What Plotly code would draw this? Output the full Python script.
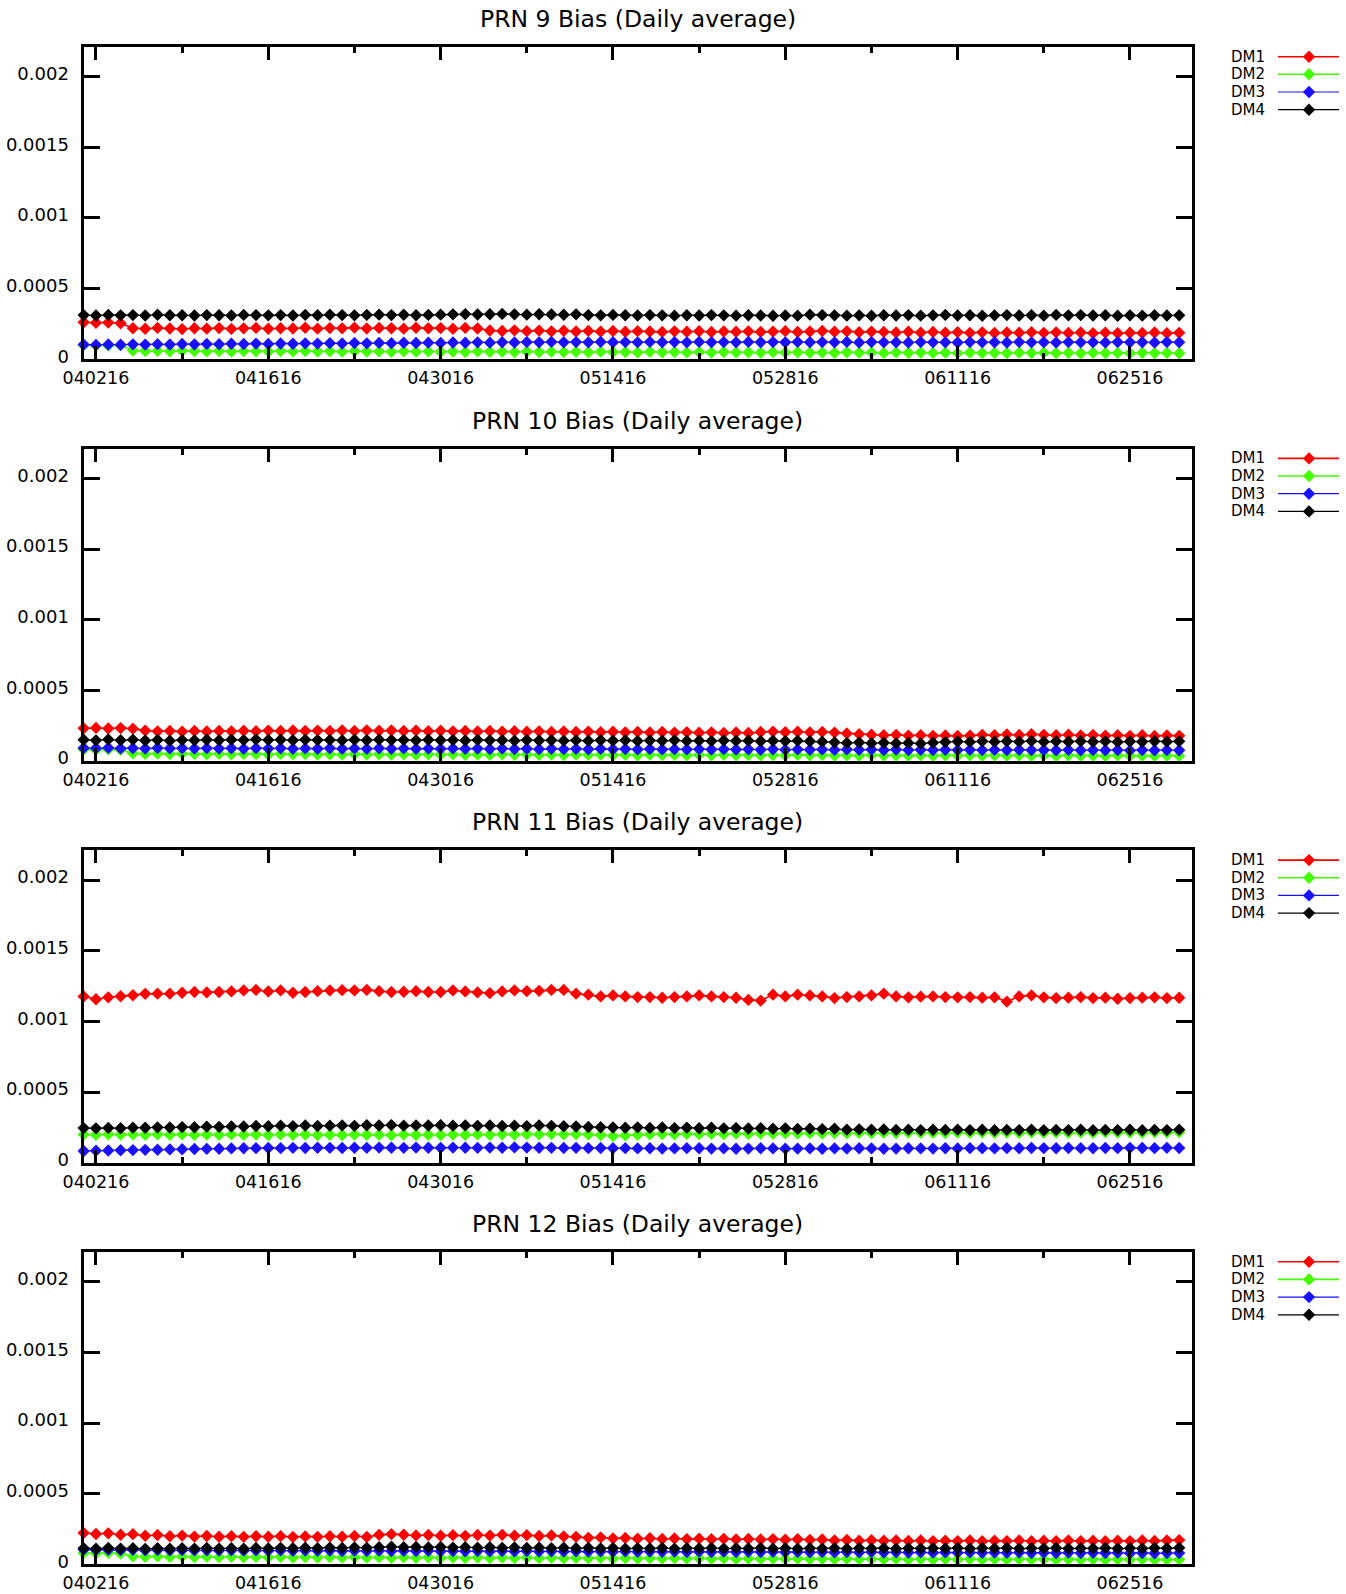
import plotly.graph_objects as go
import pandas as pd

# ---------------- data ----------------
dates = [d.strftime("%Y-%m-%d") for d in pd.date_range("2016-04-01", "2016-06-29", freq="D")]

tick_dates = ["2016-04-02", "2016-04-16", "2016-04-30", "2016-05-14", "2016-05-28", "2016-06-11", "2016-06-25"]
tick_labels = ["040216", "041616", "043016", "051416", "052816", "061116", "062516"]
minor_tick_dates = ["2016-04-09", "2016-04-23", "2016-05-07", "2016-05-21", "2016-06-04", "2016-06-18"]

y_tick_vals = [0, 0.0005, 0.001, 0.0015, 0.002]
y_tick_labels = ["0", "0.0005", "0.001", "0.0015", "0.002"]

series_names = ["DM1", "DM2", "DM3", "DM4"]
panel_titles = ["PRN 9 Bias (Daily average)", "PRN 10 Bias (Daily average)",
                "PRN 11 Bias (Daily average)", "PRN 12 Bias (Daily average)"]

# values in units of 1e-6
prn9_dm1 = [262,258,260,255,220,216,222,218,214,220, 217,221,215,219,222,216,220,218,223,217,
            221,219,224,218,222,220,217,223,219,221, 216,222,218,204,200,205,199,203,198,202,
            197,201,196,200,195,199,197,194,198,195, 199,193,197,195,198,194,196,199,193,197,
            200,195,198,192,196,194,190,195,189,193, 188,192,187,191,186,190,188,192,187,191,
            186,190,185,189,184,188,186,190,185,187]
prn9_dm2 = [100,98,97,99,62,58,60,57,61,58, 56,59,55,58,57,54,58,56,59,55,
            57,54,58,55,56,53,57,54,56,53, 55,52,56,53,54,51,55,52,54,51,
            53,50,54,51,52,49,53,50,52,49, 51,48,52,49,50,47,51,48,50,47,
            49,46,50,47,48,45,49,46,48,45, 47,44,48,45,46,44,47,45,46,44,
            46,43,47,44,45,43,46,44,45,43]
prn9_dm3 = [104,102,105,103,106,104,107,105,108,106, 109,107,110,108,111,109,112,110,113,111,
            114,112,115,113,116,114,117,115,118,116, 119,117,120,118,121,119,122,120,123,121,
            122,120,123,121,122,120,123,121,122,120, 123,121,122,120,123,121,122,120,123,121,
            122,120,123,119,122,120,121,119,122,120, 121,119,122,120,121,119,122,120,121,119,
            122,120,121,119,122,120,121,119,122,120]
prn9_dm4 = [313,310,314,311,313,310,315,312,312,310, 313,312,310,314,313,311,313,310,314,312,
            315,313,311,314,316,313,315,312,314,316, 318,320,317,319,321,318,316,319,317,315,
            318,313,311,314,312,310,313,311,309,312, 310,313,311,309,312,310,308,310,309,316,
            313,311,309,311,308,312,310,313,309,311, 314,310,312,308,311,313,310,312,309,314,
            311,313,310,312,308,311,309,312,310,311]

prn10_dm1 = [232,234,230,233,229,215,210,213,208,212, 209,213,210,214,211,215,212,216,213,215,
             212,216,213,217,214,216,212,215,211,214, 210,213,209,212,208,211,207,210,206,209,
             205,208,204,207,203,206,202,205,201,204, 200,203,199,202,198,205,208,204,207,203,
             206,201,195,190,186,182,185,180,183,178, 181,177,180,185,183,188,184,189,185,182,
             186,181,184,179,183,178,182,177,181,178]
prn10_dm2 = [82,80,83,79,54,50,53,49,52,50, 48,51,47,50,49,46,50,47,49,46,
             48,45,49,46,48,45,47,44,48,45, 47,44,46,43,47,44,46,43,45,42,
             46,43,45,42,44,41,45,42,44,41, 43,40,44,41,43,40,42,39,43,40,
             42,39,41,38,42,39,41,38,40,37, 41,38,40,37,41,38,40,37,39,36,
             40,37,39,36,40,37,38,36,39,36]
prn10_dm3 = [92,90,93,89,91,88,92,89,90,88, 91,88,90,87,91,88,90,87,89,87,
             90,87,89,86,90,87,89,86,88,86, 89,86,88,85,88,85,87,84,87,84,
             86,83,86,83,85,82,85,82,84,82, 84,81,84,81,83,80,83,80,82,80,
             82,79,82,79,81,78,81,78,80,78, 80,77,80,77,79,77,79,77,78,76,
             79,76,78,76,78,75,78,76,77,76]
prn10_dm4 = [150,146,152,147,151,145,149,144,148,146, 150,147,151,148,152,149,150,147,151,148,
             149,146,150,147,151,148,149,146,150,147, 148,145,149,146,147,144,148,145,147,144,
             146,143,147,144,146,142,145,143,146,142, 144,141,145,142,144,140,143,141,144,140,
             136,132,128,131,126,129,125,128,124,130, 134,138,135,139,136,140,137,141,136,139,
             137,140,136,139,135,138,136,140,137,139]

prn11_dm1 = [1177,1157,1170,1178,1185,1195,1196,1196,1203,1208, 1205,1208,1212,1219,1223,1212,1219,1203,1208,1214,
             1219,1221,1219,1223,1214,1208,1210,1214,1208,1208, 1219,1212,1205,1200,1212,1219,1214,1216,1223,1223,
             1196,1189,1177,1184,1177,1172,1172,1167,1172,1177, 1184,1177,1172,1167,1152,1147,1189,1177,1189,1184,
             1177,1165,1172,1177,1184,1196,1177,1170,1175,1177, 1172,1170,1172,1168,1170,1140,1177,1184,1170,1165,
             1168,1172,1165,1168,1160,1165,1168,1170,1165,1167]
prn11_dm2 = [200,198,201,199,200,197,201,198,200,197, 199,197,200,198,199,196,200,197,199,196,
             198,196,199,197,198,195,199,196,198,196, 199,197,200,198,201,199,202,200,203,201,
             202,200,196,189,193,198,201,203,200,204, 202,205,203,206,204,207,205,208,206,209,
             207,210,208,211,209,212,210,213,211,212, 210,213,211,214,212,213,211,214,212,213,
             211,214,212,215,213,214,212,215,213,216]
prn11_dm3 = [83,85,86,88,89,91,92,94,95,97, 98,99,101,102,103,104,103,105,104,106,
             105,104,106,105,107,106,105,107,106,105, 107,106,105,107,106,108,107,106,105,104,
             105,103,104,102,103,101,102,100,101,103, 102,100,101,99,100,102,101,99,100,101,
             99,101,100,102,101,99,100,102,101,100, 102,101,103,102,101,103,102,104,103,102,
             104,103,102,104,103,105,104,103,105,104]
prn11_dm4 = [245,243,246,244,248,247,250,249,252,251, 255,254,257,256,260,258,262,259,263,260,
             262,264,261,265,263,266,262,264,263,265, 262,264,261,263,260,262,259,264,261,258,
             256,253,251,249,247,250,246,249,245,248, 244,247,243,245,242,244,240,243,239,241,
             238,240,234,236,233,235,232,234,231,233, 232,234,231,233,230,232,231,233,230,232,
             231,233,230,232,231,233,230,232,231,234]

prn12_dm1 = [223,215,220,210,214,203,208,199,204,197, 201,196,200,195,199,196,200,194,198,195,
             199,196,201,194,209,214,210,205,208,203, 207,202,208,204,209,203,207,201,205,198,
             195,188,191,184,187,182,185,180,183,179, 182,178,181,177,180,176,179,175,178,174,
             176,170,173,168,171,167,170,166,169,165, 168,165,169,164,168,165,169,164,168,165,
             169,165,168,164,168,165,169,166,170,172]
prn12_dm2 = [80,78,82,77,58,54,57,53,56,52, 55,51,54,50,53,50,53,49,52,49,
             52,48,51,48,51,47,50,47,50,46, 49,46,49,45,48,45,48,44,47,44,
             46,43,46,42,45,42,44,41,44,41, 43,40,43,39,42,39,42,38,41,38,
             40,37,40,36,39,36,39,35,38,35, 38,35,38,34,37,34,37,34,36,34,
             37,34,36,33,36,33,36,33,35,34]
prn12_dm3 = [105,102,104,101,103,100,102,99,101,99, 100,98,100,97,99,97,99,96,98,96,
             98,95,97,95,97,94,96,94,96,93, 95,93,95,92,94,92,94,91,93,91,
             93,90,92,90,92,89,91,89,91,88, 90,88,90,87,89,87,89,86,88,86,
             88,85,87,85,87,84,86,84,86,83, 85,83,85,82,84,82,84,81,83,81,
             83,80,82,80,82,79,81,79,81,80]
prn12_dm4 = [115,111,116,112,115,110,114,111,115,112, 116,112,115,111,116,113,117,114,118,115,
             119,116,120,117,122,125,121,124,120,123, 119,122,118,121,117,120,116,119,115,118,
             114,117,113,116,112,115,113,116,112,115, 113,116,112,115,113,116,112,115,111,114,
             112,115,111,114,112,115,111,114,112,115, 113,116,112,115,113,116,112,115,113,116,
             112,115,113,116,112,115,113,116,114,117]

panels = [
    [prn9_dm1, prn9_dm2, prn9_dm3, prn9_dm4],
    [prn10_dm1, prn10_dm2, prn10_dm3, prn10_dm4],
    [prn11_dm1, prn11_dm2, prn11_dm3, prn11_dm4],
    [prn12_dm1, prn12_dm2, prn12_dm3, prn12_dm4],
]
for p in panels:
    for s in p:
        assert len(s) == len(dates), len(s)

UNIT = 1e-6  # values above are stored in micro-units

# ---------------- style ----------------
W, H = 1346, 1594
colors = ["#ff0000", "#44ff00", "#1a10ff", "#000000"]
line_widths = [1.6, 1.6, 1.2, 1.2]
FONT = "DejaVu Sans"
MSIZE = 9.5

PLOT_L, PLOT_R = 83.5, 1191.5
TOP0, BOT0 = 47.0, 359.3
STEP = 401.7

def px_x(p):
    return p / W

def px_y(p):
    return 1 - p / H

fig = go.Figure()
layout = dict(
    width=W, height=H, autosize=False,
    margin=dict(l=0, r=0, t=0, b=0, pad=0, autoexpand=False),
    paper_bgcolor="white", plot_bgcolor="rgba(0,0,0,0)",
    showlegend=False,
    font=dict(family=FONT, size=17, color="black"),
)

annotations = []
for k in range(4):
    ax = "" if k == 0 else str(k + 1)
    top = TOP0 + STEP * k
    bot = BOT0 + STEP * k
    for j in range(4):
        fig.add_trace(go.Scatter(
            x=dates, y=[v * UNIT for v in panels[k][j]],
            mode="lines+markers", name=series_names[j],
            line=dict(color=colors[j], width=line_widths[j]),
            marker=dict(symbol="diamond", size=MSIZE, color=colors[j]),
            cliponaxis=False,
            xaxis="x" + ax, yaxis="y" + ax,
        ))
    layout["xaxis" + ax] = dict(
        domain=[px_x(PLOT_L), px_x(PLOT_R)], anchor="y" + ax, type="date",
        range=["2016-03-31 23:40", "2016-06-30 00:00"],
        tickmode="array", tickvals=tick_dates, ticktext=tick_labels,
        ticks="inside", ticklen=13, tickwidth=3, tickcolor="black",
        showline=True, linewidth=3, linecolor="black", mirror="ticks",
        showgrid=False, zeroline=False, automargin=False,
        tickfont=dict(family=FONT, size=17.5, color="black"),
        ticklabelstandoff=1,
        minor=dict(tickmode="array", tickvals=minor_tick_dates, ticks="inside",
                   ticklen=6, tickwidth=3, tickcolor="black", showgrid=False),
    )
    layout["yaxis" + ax] = dict(
        domain=[px_y(bot), px_y(top)], anchor="x" + ax,
        range=[0, 0.00221],
        tickmode="array", tickvals=y_tick_vals, ticktext=y_tick_labels,
        ticks="inside", ticklen=16, tickwidth=3, tickcolor="black",
        showline=True, linewidth=3, linecolor="black", mirror="ticks",
        showgrid=False, zeroline=False, automargin=False,
        tickfont=dict(family=FONT, size=18, color="black"),
        ticklabelstandoff=8, ticklabelshift=-3,
    )
    annotations.append(dict(
        text=panel_titles[k], x=px_x(637.5), y=px_y(19 + STEP * k),
        xref="paper", yref="paper", xanchor="center", yanchor="middle",
        showarrow=False, font=dict(family=FONT, size=23.5, color="black"),
    ))

# legend (key drawn on a full-page pixel overlay axis)
legend_rows = [56.7, 74.3, 92.0, 109.7]
for k in range(4):
    for j in range(4):
        yy = legend_rows[j] + STEP * k
        fig.add_trace(go.Scatter(
            x=[1278, 1339], y=[yy, yy], mode="lines",
            line=dict(color=colors[j], width=line_widths[j]),
            xaxis="x5", yaxis="y5", cliponaxis=False, hoverinfo="skip",
        ))
        fig.add_trace(go.Scatter(
            x=[1309], y=[yy], mode="markers",
            marker=dict(symbol="diamond", size=MSIZE, color=colors[j]),
            xaxis="x5", yaxis="y5", cliponaxis=False, hoverinfo="skip",
        ))
        annotations.append(dict(
            text=series_names[j], x=px_x(1266), y=px_y(yy),
            xref="paper", yref="paper", xanchor="right", yanchor="middle",
            showarrow=False, borderpad=0,
            font=dict(family=FONT, size=15, color="black"),
        ))

layout["xaxis5"] = dict(domain=[0, 1], range=[0, W], visible=False, anchor="y5",
                        fixedrange=True, automargin=False)
layout["yaxis5"] = dict(domain=[0, 1], range=[H, 0], visible=False, anchor="x5",
                        fixedrange=True, automargin=False)
layout["annotations"] = annotations

fig.update_layout(**layout)
fig.write_html("out.html", config={"displayModeBar": False},
               post_script="document.body.style.margin='0px';")
